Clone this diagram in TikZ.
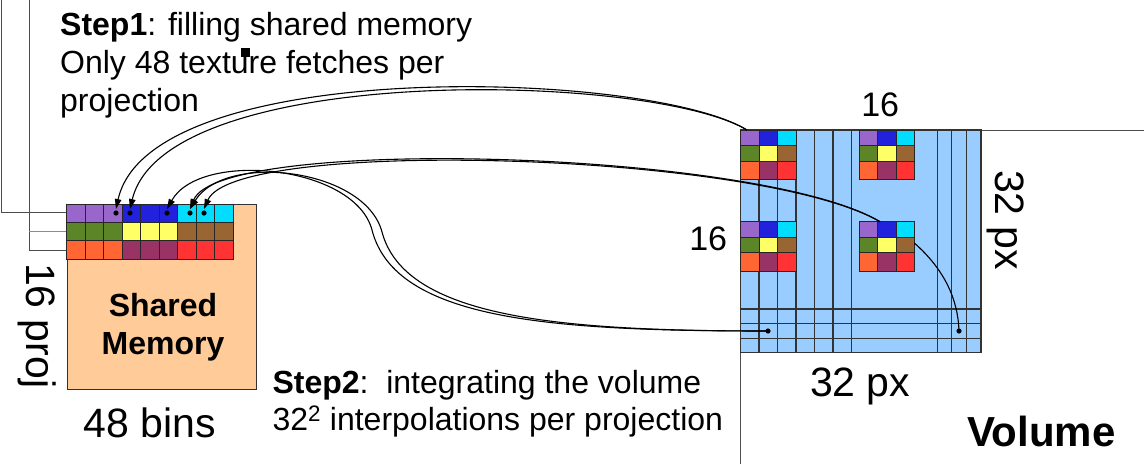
\documentclass[tikz,border=0pt]{standalone}
\usepackage{fontspec}
\setmainfont{Liberation Sans}
\usetikzlibrary{arrows.meta}

\definecolor{cpurple}{HTML}{9966CC}
\definecolor{cblue}{HTML}{2222DD}
\definecolor{ccyan}{HTML}{00DDFF}
\definecolor{cgreen}{HTML}{5B8526}
\definecolor{cyellow}{HTML}{FFFF66}
\definecolor{cbrown}{HTML}{996633}
\definecolor{corange}{HTML}{FF6633}
\definecolor{cmaroon}{HTML}{993366}
\definecolor{cred}{HTML}{FF3333}
\definecolor{smemfill}{HTML}{FFCC99}
\definecolor{volfill}{HTML}{99CCFF}

% one 3x3 tile of projection bins inside the volume
\newcommand\volblock[2]{%
  \foreach \col [count=\i from 0] in {cpurple,cblue,ccyan}
    \draw[cellbox,fill=\col] ({#1+18.5*\i},#2) rectangle ++(18.5,15.8);
  \foreach \col [count=\i from 0] in {cgreen,cyellow,cbrown}
    \draw[cellbox,fill=\col] ({#1+18.5*\i},#2+15.8) rectangle ++(18.5,15.2);
  \foreach \col [count=\i from 0] in {corange,cmaroon,cred}
    \draw[cellbox,fill=\col] ({#1+18.5*\i},#2+31) rectangle ++(18.5,18.3);
}

\begin{document}
\begin{tikzpicture}[x=1pt,y=-1pt,
  cellbox/.style={draw=black!85,line width=0.9pt},
  gridln/.style={draw=black!80,line width=1.1pt},
  frameln/.style={draw=black!70,line width=1pt},
  conn/.style={draw=black,line width=1.1pt},
  fetch/.style={conn,-{Triangle[length=10pt,width=6.5pt]}},
  lbl/.style={inner sep=0pt,outer sep=0pt},
  txt/.style={lbl,font=\fontsize{32}{37.7}\selectfont},
  big/.style={lbl,font=\fontsize{41}{48}\selectfont}]
\useasboundingbox (0,0) rectangle (1144,464);

% stacked projection frames behind the shared memory
\draw[frameln] (1,0) -- (1,212.5) -- (66.7,212.5);
\draw[frameln] (29,0) -- (29,250) -- (66.7,250);
\draw[draw=black!45,line width=1pt] (29,231.5) -- (66.7,231.5);

% shared memory
\node[draw=black!80,line width=1pt,fill=smemfill,minimum width=189.3pt,
  minimum height=184.7pt,anchor=north west,inner sep=0pt] (smem) at (66.7,204) {};
\foreach \col [count=\i from 0] in {cpurple,cpurple,cpurple,cblue,cblue,cblue,ccyan,ccyan,ccyan}
  \draw[cellbox,fill=\col] ({66.7+18.5*\i},204) rectangle ++(18.5,18.4);
\foreach \col [count=\i from 0] in {cgreen,cgreen,cgreen,cyellow,cyellow,cyellow,cbrown,cbrown,cbrown}
  \draw[cellbox,fill=\col] ({66.7+18.5*\i},222.4) rectangle ++(18.5,18.4);
\foreach \col [count=\i from 0] in {corange,corange,corange,cmaroon,cmaroon,cmaroon,cred,cred,cred}
  \draw[cellbox,fill=\col] ({66.7+18.5*\i},240.8) rectangle ++(18.5,18.4);

% volume
\draw[frameln] (740.7,464) -- (740.7,130) -- (1144,130);
\fill[volfill] (740.7,130) rectangle (981,352.5);
\foreach \x in {759,777.3,796,814.7,833,851.7,937.3,951.7,966.7}
  \draw[gridln] (\x,130) -- (\x,352.5);
\foreach \y in {309,323.5,338.5}
  \draw[gridln] (740.7,\y) -- (981,\y);
\draw[gridln] (740.7,130) rectangle (981,352.5);
\volblock{740.7}{130}
\volblock{859.3}{130}
\volblock{740.7}{221.7}
\volblock{859.3}{221.7}

% small marker
\fill (241,48.3) rectangle (249.5,56.8);

% connector end points
\coordinate (va) at (747,130);
\coordinate (vb) at (880,221.7);
\coordinate (vc) at (768,331);
\coordinate (vd) at (914.3,243);
\coordinate (ve) at (959,331);
\coordinate (s1) at (116,209);
\coordinate (s2) at (130,209);
\coordinate (s3) at (167,209);
\coordinate (s4) at (190,209);
\coordinate (s5) at (204,209);
\coordinate (m1) at (372,230);
\coordinate (m2) at (382,232);

% step 1: texture fetches into shared memory
\draw[fetch] (va) .. controls (650,70) and (150,55) .. (s1);
\draw[fetch] (va) .. controls (650,72) and (165,62) .. (s2);
\draw[fetch] (vb) .. controls (760,150) and (220,135) .. (s4);
\draw[fetch] (vb) .. controls (760,152) and (235,137) .. (s5);
% step 2: reading bins back into the volume
\draw[fetch] (vc) .. controls (550,331) and (395,320) .. (m1)
  .. controls (355,165) and (200,150) .. (s3);
\draw[fetch] (vc) .. controls (560,331) and (405,318) .. (m2)
  .. controls (365,168) and (225,152) .. (s4);
\draw[conn] (vd) .. controls (945,270) and (958,300) .. (ve);

\foreach \p in {s1,s2,s3,s4,s5} \fill ([yshift=-4pt]\p) circle (2.6pt);
\fill (vc) circle (2.6pt);
\fill (ve) circle (2.6pt);

% labels
\node[txt,anchor=north west,align=left] (step1) at (60.2,12.8)
  {\textbf{Step1}: filling shared memory\\Only 48 texture fetches per\\projection};
\node[txt,anchor=north,align=center] (smtext) at (163,293.5)
  {\textbf{Shared}\\\textbf{Memory}};
\node[txt,anchor=north west,align=left] (step2) at (272.5,370)
  {\textbf{Step2}:\ \ integrating the volume\\32\textsuperscript{2} interpolations per projection};
\node[big,anchor=base] (bins) at (150,437) {48 bins};
\node[big,anchor=base west,rotate=-90] (proj) at (26,263) {16 proj};
\node[big,anchor=base west] (pxb) at (810,396.7) {32 px};
\node[big,anchor=base west,rotate=-90] (pxr) at (995,170) {32 px};
\node[lbl,anchor=base west,font=\fontsize{34}{40}\selectfont] (n16a) at (861.3,116.7) {16};
\node[lbl,anchor=base west,font=\fontsize{34}{40}\selectfont] (n16b) at (689.3,250.7) {16};
\node[lbl,anchor=base west,font=\bfseries\fontsize{42}{48}\selectfont] (voltext) at (967,446) {Volume};
\end{tikzpicture}
\end{document}
